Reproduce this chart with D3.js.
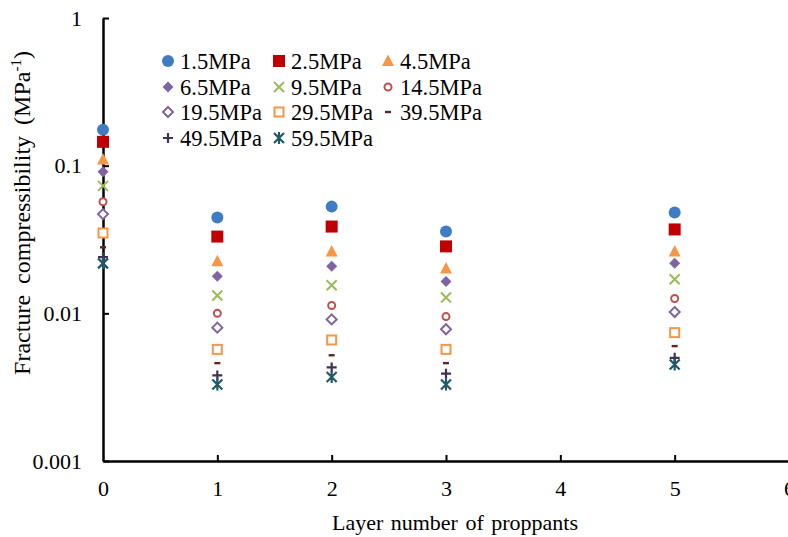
<!DOCTYPE html>
<html>
<head>
<meta charset="utf-8">
<script src="https://cdn.jsdelivr.net/npm/d3@7"></script>
<style>
  body { margin: 0; background: #fff; }
  svg { display: block; font-family: "Liberation Serif", "Times New Roman", serif; }
</style>
</head>
<body>
<svg id="chart" width="788" height="537"></svg>
<script>
const layers = [0, 1, 2, 3, 5];
const pressures = ["1.5MPa", "2.5MPa", "4.5MPa", "6.5MPa", "9.5MPa", "14.5MPa",
  "19.5MPa", "29.5MPa", "39.5MPa", "49.5MPa", "59.5MPa"];
// one row per pressure, values at layers 0,1,2,3,5
const values = [
  [0.175, 0.0445, 0.0528, 0.0358, 0.0481],
  [0.145, 0.0331, 0.0387, 0.0284, 0.0370],
  [0.110, 0.0225, 0.0262, 0.0201, 0.0262],
  [0.091, 0.0178, 0.0208, 0.0164, 0.0218],
  [0.073, 0.0132, 0.0155, 0.0128, 0.0170],
  [0.057, 0.0100, 0.0113, 0.0095, 0.0126],
  [0.047, 0.0080, 0.0091, 0.0078, 0.0102],
  [0.035, 0.0057, 0.0066, 0.0057, 0.0074],
  [0.028, 0.0046, 0.0052, 0.0046, 0.0060],
  [0.024, 0.0038, 0.0043, 0.0039, 0.0050],
  [0.0218, 0.0033, 0.0037, 0.0033, 0.0045]
];
const yTicks = [0.001, 0.01, 0.1, 1];
const xTicks = [0, 1, 2, 3, 4, 5, 6];

const markers = [
  { shape: "circle", color: "#3f7cc4" },
  { shape: "square", color: "#c00000" },
  { shape: "triangle", color: "#f79646" },
  { shape: "diamond", color: "#8064a2" },
  { shape: "x", color: "#9bbb59" },
  { shape: "ocircle", color: "#c0504d" },
  { shape: "odiamond", color: "#8064a2" },
  { shape: "osquare", color: "#f79646" },
  { shape: "dash", color: "#632523" },
  { shape: "plus", color: "#403152" },
  { shape: "star", color: "#215968" }
];

const svg = d3.select("#chart");
const x = d3.scaleLinear().domain([0, 6]).range([103, 789]);
const y = d3.scaleLog().domain([0.001, 1]).range([461, 18]);

function drawMarker(g, m) {
  const c = m.color;
  switch (m.shape) {
    case "circle":
      g.append("circle").attr("r", 6).attr("fill", c); break;
    case "square":
      g.append("rect").attr("x", -6).attr("y", -6).attr("width", 12).attr("height", 12).attr("fill", c); break;
    case "triangle":
      g.append("path").attr("d", "M0,-6.5L6,5L-6,5Z").attr("fill", c); break;
    case "diamond":
      g.append("path").attr("d", "M0,-5.5L5.5,0L0,5.5L-5.5,0Z").attr("fill", c); break;
    case "x":
      g.append("path").attr("d", "M-5,-5L5,5M-5,5L5,-5").attr("stroke", c).attr("stroke-width", 2).attr("fill", "none"); break;
    case "ocircle":
      g.append("circle").attr("r", 3.5).attr("fill", "#fff").attr("stroke", c).attr("stroke-width", 2); break;
    case "odiamond":
      g.append("path").attr("d", "M0,-5L5,0L0,5L-5,0Z").attr("fill", "#fff").attr("stroke", c).attr("stroke-width", 2); break;
    case "osquare":
      g.append("rect").attr("x", -4.5).attr("y", -4.5).attr("width", 9).attr("height", 9).attr("fill", "#fff").attr("stroke", c).attr("stroke-width", 2); break;
    case "dash":
      g.append("rect").attr("x", -3).attr("y", -1.2).attr("width", 6).attr("height", 2.4).attr("fill", c); break;
    case "plus":
      g.append("path").attr("d", "M-5,0L5,0M0,-5L0,5").attr("stroke", c).attr("stroke-width", 2.2).attr("fill", "none"); break;
    case "star":
      g.append("path").attr("d", "M-5,-5L5,5M-5,5L5,-5M0,-6L0,6").attr("stroke", c).attr("stroke-width", 2.2).attr("fill", "none"); break;
  }
}

// axes
const yAxis = d3.axisLeft(y)
  .tickValues(yTicks)
  .tickFormat(d => String(d))
  .tickSizeInner(-6)
  .tickSizeOuter(0)
  .tickPadding(21);
const gy = svg.append("g").attr("transform", `translate(${x(0)},0)`).call(yAxis);

const xAxis = d3.axisBottom(x)
  .tickValues(xTicks)
  .tickFormat(d3.format("d"))
  .tickSizeInner(-6)
  .tickSizeOuter(0)
  .tickPadding(19);
const gx = svg.append("g").attr("transform", `translate(0,${y(0.001)})`).call(xAxis);

[gx, gy].forEach(g => {
  g.select(".domain").attr("stroke", "#000").attr("stroke-width", 2.5);
  g.selectAll(".tick line").attr("stroke", "#000").attr("stroke-width", 2);
  g.selectAll(".tick text").attr("fill", "#000").attr("font-size", 22)
    .attr("font-family", "Liberation Serif, Times New Roman, serif");
});
gx.select(".tick line").remove();

// axis titles
svg.append("text")
  .attr("x", 455)
  .attr("y", 522)
  .attr("dy", "0.35em")
  .attr("text-anchor", "middle")
  .attr("font-size", 22)
  .attr("word-spacing", 2)
  .text("Layer number of proppants");

const yt = svg.append("text")
  .attr("transform", `translate(22,213) rotate(-90)`)
  .attr("dy", "0.35em")
  .attr("text-anchor", "middle")
  .attr("font-size", 24)
  .attr("word-spacing", 5);
yt.append("tspan").text("Fracture compressibility (MPa");
yt.append("tspan").attr("font-size", 15).attr("dy", -9).text("-1");
yt.append("tspan").attr("dy", 9).text(")");

// points
pressures.forEach((p, i) => {
  values[i].forEach((v, j) => {
    const g = svg.append("g").attr("transform", `translate(${x(layers[j])},${y(v)})`);
    drawMarker(g, markers[i]);
  });
});

// legend
const legCols = [168, 279, 388];
const legRows = [61, 87, 112, 138];
pressures.forEach((p, i) => {
  const cx = legCols[i % 3], cy = legRows[Math.floor(i / 3)];
  const g = svg.append("g").attr("transform", `translate(${cx},${cy})`);
  drawMarker(g, markers[i]);
  svg.append("text")
    .attr("x", cx + 12)
    .attr("y", cy)
    .attr("dy", "0.35em")
    .attr("font-size", 22.5)
    .text(p);
});
</script>
</body>
</html>
